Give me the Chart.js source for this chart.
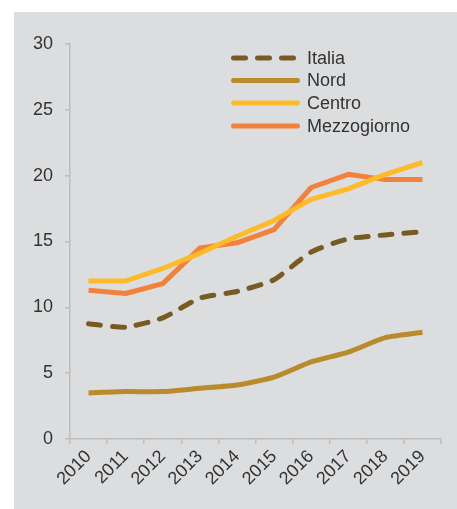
<!DOCTYPE html>
<html>
<head>
<meta charset="utf-8">
<script src="https://cdn.jsdelivr.net/npm/chart.js@4/dist/chart.umd.min.js"></script>
<style>
  html, body { margin: 0; padding: 0; background: #ffffff; }
  #panel { position: absolute; left: 14px; top: 12px; width: 443px; height: 497px; background: #dcdddf; }
  #chart { display: block; }
</style>
</head>
<body>
<div id="panel"><canvas id="chart" width="443" height="497"></canvas></div>
<script>
const years = ['2010', '2011', '2012', '2013', '2014', '2015', '2016', '2017', '2018', '2019'];
const italia = [8.75, 8.5, 9.2, 10.7, 11.2, 12.1, 14.2, 15.2, 15.5, 15.75];
const nord = [3.5, 3.6, 3.6, 3.85, 4.1, 4.7, 5.85, 6.6, 7.7, 8.1];
const centro = [12.0, 12.0, 12.95, 14.1, 15.4, 16.6, 18.2, 19.0, 20.1, 21.0];
const mezzogiorno = [11.3, 11.05, 11.8, 14.5, 14.9, 15.9, 19.1, 20.1, 19.7, 19.7];

const textColor = '#333333';
const axisColor = '#bdbdbd';
const font = { family: '"Liberation Sans", Arial, sans-serif', size: 18 };

// legend drawn inside the plot, like the original
const insideLegend = {
  id: 'insideLegend',
  afterDraw(chart) {
    const ctx = chart.ctx;
    const x0 = 217, x1 = 286, tx = 293;
    const rows = [46, 68.5, 91, 114];
    ctx.save();
    chart.data.datasets.forEach((ds, i) => {
      const y = rows[i];
      ctx.beginPath();
      ctx.strokeStyle = ds.borderColor;
      ctx.lineWidth = 5;
      ctx.lineCap = 'round';
      ctx.setLineDash(ds.borderDash || []);
      ctx.moveTo(x0 + 2.5, y);
      ctx.lineTo(x1 - 2.5, y);
      ctx.stroke();
      ctx.setLineDash([]);
      ctx.fillStyle = textColor;
      ctx.font = font.size + 'px ' + font.family;
      ctx.textBaseline = 'middle';
      ctx.fillText(ds.label, tx, y + 1);
    });
    ctx.restore();
  }
};

new Chart(document.getElementById('chart'), {
  type: 'line',
  data: {
    labels: years,
    datasets: [
      { label: 'Italia', data: italia, borderColor: '#765b22', borderDash: [12, 12], borderCapStyle: 'round', tension: 0.2 },
      { label: 'Nord', data: nord, borderColor: '#b98b2c', tension: 0.2 },
      { label: 'Centro', data: centro, borderColor: '#fdbb2c', tension: 0 },
      { label: 'Mezzogiorno', data: mezzogiorno, borderColor: '#f2813c', tension: 0 }
    ]
  },
  options: {
    responsive: false,
    animation: false,
    layout: { padding: { top: 32, right: 16, left: 0, bottom: 0 } },
    elements: {
      line: { borderWidth: 5, fill: false, borderJoinStyle: 'round' },
      point: { radius: 0 }
    },
    plugins: {
      legend: { display: false },
      tooltip: { enabled: false }
    },
    scales: {
      x: {
        offset: true,
        grid: { display: true, drawOnChartArea: false, offset: true, color: axisColor, tickLength: 5, lineWidth: 1.5 },
        border: { color: axisColor, width: 1.5 },
        ticks: { color: textColor, font: font, maxRotation: 45, minRotation: 45, autoSkip: false, padding: 2 },
        afterFit(scale) { scale.height = 70; }
      },
      y: {
        min: 0,
        max: 30,
        ticks: { stepSize: 5, color: textColor, font: font, padding: 12 },
        grid: { display: true, drawOnChartArea: false, color: axisColor, tickLength: 5, lineWidth: 1.5 },
        border: { color: axisColor, width: 1.5 },
        afterFit(scale) { scale.width = 56; }
      }
    }
  },
  plugins: [insideLegend]
});
</script>
</body>
</html>
